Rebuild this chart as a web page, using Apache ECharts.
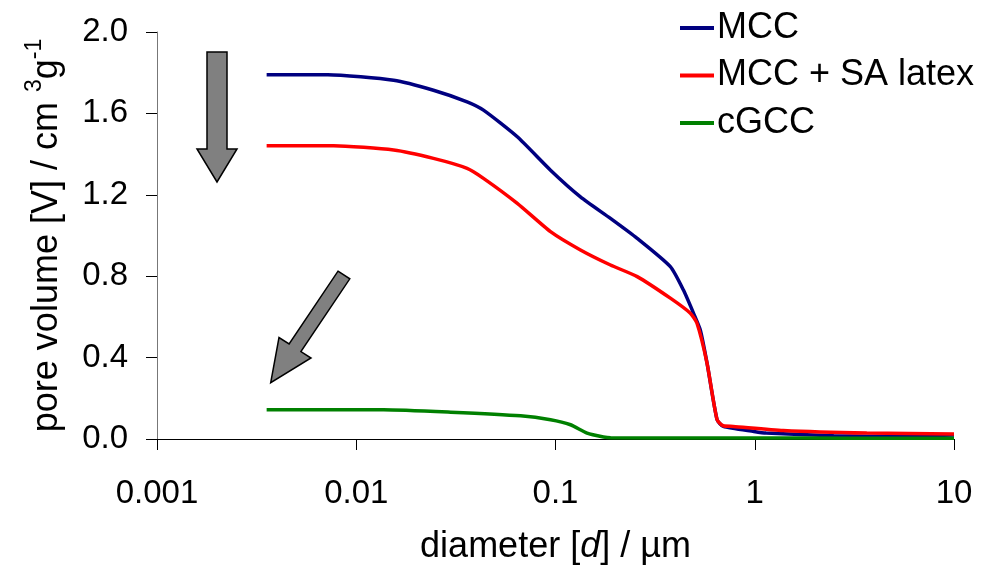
<!DOCTYPE html>
<html><head><meta charset="utf-8">
<script src="https://cdn.jsdelivr.net/npm/echarts@6/dist/echarts.min.js"></script>
<style>html,body{margin:0;padding:0;background:#fff}#c{width:996px;height:573px}</style>
</head><body><div id="c"></div>
<script>
const seriesNames = ['MCC', 'MCC + SA latex', 'cGCC'];
const xTicks = [0.001, 0.01, 0.1, 1, 10];
const yTicks = [0.0, 0.4, 0.8, 1.2, 1.6, 2.0];

const dMCC = [0.00355, 0.0072, 0.0154, 0.0244, 0.036, 0.0435, 0.0643, 0.0944, 0.1334, 0.1887, 0.257, 0.377, 0.438, 0.492, 0.533, 0.576, 0.647, 0.695, 0.99, 1.14, 2.49, 5.39, 10];
const vMCC = [1.79, 1.79, 1.763, 1.714, 1.657, 1.616, 1.485, 1.321, 1.19, 1.084, 0.986, 0.847, 0.733, 0.62, 0.536, 0.374, 0.095, 0.062, 0.037, 0.029, 0.016, 0.013, 0.02];

const dLatex = [0.00355, 0.0077, 0.0154, 0.0244, 0.036, 0.0435, 0.0643, 0.0944, 0.1334, 0.1887, 0.257, 0.377, 0.475, 0.513, 0.576, 0.647, 0.695, 0.78, 1.39, 3.65, 10];
const vLatex = [1.441, 1.441, 1.42, 1.379, 1.33, 1.281, 1.158, 1.019, 0.929, 0.855, 0.798, 0.692, 0.618, 0.569, 0.373, 0.095, 0.065, 0.062, 0.042, 0.029, 0.025];

const dCGCC = [0.00355, 0.0137, 0.0298, 0.0668, 0.0944, 0.119, 0.144, 0.174, 0.189, 0.5, 1, 3, 10];
const vCGCC = [0.144, 0.144, 0.132, 0.114, 0.095, 0.07, 0.029, 0.01, 0.006, 0.005, 0.005, 0.004, 0.004];

const colors = ['#000080', '#ff0000', '#008000'];
const FONT = '"Liberation Sans", Arial, sans-serif';

function pairs(xs, ys) { return xs.map((x, i) => [x, ys[i]]); }

const chart = echarts.init(document.getElementById('c'), null, {renderer: 'canvas'});
const mk = (name, xs, ys, color) => ({
  name: name, type: 'line', data: pairs(xs, ys),
  showSymbol: false, symbol: 'none', smooth: 0.2,
  lineStyle: {color: color, width: 3.5}, itemStyle: {color: color},
  emphasis: {disabled: true}, animation: false
});

chart.setOption({
  animation: false,
  textStyle: {fontFamily: FONT},
  grid: {left: 157, right: 42, top: 32, bottom: 134, containLabel: false},
  legend: {
    orient: 'vertical', left: 675, top: 3, itemWidth: 34, itemHeight: 14,
    itemGap: 7.5, icon: 'path://M0,0 L34,0 L34,4 L0,4 Z',
    data: seriesNames.map((n, i) => ({name: n, itemStyle: {color: colors[i]}})),
    textStyle: {fontSize: 36, color: '#000', fontFamily: FONT, lineHeight: 40, padding: [0, 0, 0, -2]},
    itemStyle: {borderWidth: 0}
  },
  xAxis: {
    type: 'log', logBase: 10, min: xTicks[0], max: xTicks[xTicks.length - 1],
    name: '{n|diameter [}{i|d}{n|] / µm}', nameLocation: 'middle', nameGap: 90,
    nameTextStyle: {rich: {n: {fontSize: 36, color: '#000', fontFamily: FONT}, i: {fontSize: 36, color: '#000', fontStyle: 'italic', fontFamily: FONT}}},
    axisLine: {lineStyle: {color: '#000', width: 1}},
    axisTick: {show: true, length: 11, lineStyle: {color: '#000'}},
    splitLine: {show: false}, minorTick: {show: false},
    axisLabel: {fontSize: 33, color: '#000', margin: 38, fontFamily: FONT,
      formatter: v => { const t = xTicks.find(x => Math.abs(Math.log10(x) - Math.log10(v)) < 1e-6); return t === undefined ? '' : String(t); }}
  },
  yAxis: {
    type: 'value', min: yTicks[0], max: yTicks[yTicks.length - 1], interval: 0.4,
    name: '{n|pore volume [V] / cm }{s|3}{n|g}{s|-1}', nameLocation: 'middle', nameGap: 92, nameRotate: 90,
    nameTextStyle: {rich: {n: {fontSize: 36, color: '#000', fontFamily: FONT, lineHeight: 42, verticalAlign: 'bottom'}, s: {fontSize: 23, color: '#000', fontFamily: FONT, lineHeight: 42, verticalAlign: 'top'}}},
    axisLine: {show: true, lineStyle: {color: '#777', width: 1}},
    axisTick: {show: true, length: 11, lineStyle: {color: '#000'}},
    splitLine: {show: false},
    axisLabel: {fontSize: 33, color: '#000', margin: 29, fontFamily: FONT, formatter: v => v.toFixed(1)}
  },
  graphic: [
    {type: 'polygon', z: 100, shape: {points: [[207,52],[227,52],[227,149],[237,149],[217,182],[197,149],[207,149]]},
      style: {fill: '#808080', stroke: '#000', lineWidth: 1.5}},
    {type: 'polygon', z: 100, shape: {points: [[338,271.2],[349.8,278.8],[300.9,351.6],[311,358],[270.7,382.7],[279,337.6],[289.1,344]]},
      style: {fill: '#808080', stroke: '#000', lineWidth: 1.5}}
  ],
  series: [
    mk(seriesNames[0], dMCC, vMCC, colors[0]),
    mk(seriesNames[1], dLatex, vLatex, colors[1]),
    mk(seriesNames[2], dCGCC, vCGCC, colors[2])
  ]
});
</script></body></html>
